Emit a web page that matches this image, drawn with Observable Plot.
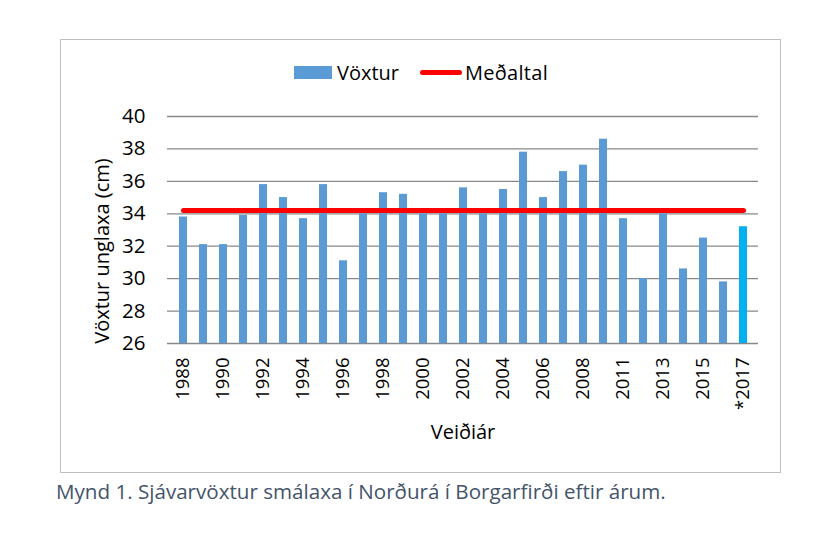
<!DOCTYPE html>
<html>
<head>
<meta charset="utf-8">
<script src="https://cdn.jsdelivr.net/npm/d3@7"></script>
<script src="https://cdn.jsdelivr.net/npm/@observablehq/plot@0.6"></script>
<style>
  html, body { margin: 0; padding: 0; background: #fff; }
  #wrap { position: relative; width: 833px; height: 551px; overflow: hidden; font-family: "Open Sans", sans-serif; }
  #frame { position: absolute; left: 60px; top: 39px; width: 719px; height: 432px; border: 1.5px solid #bfbfbf; pointer-events: none; z-index: 2; }
  #chart { position: absolute; left: 0; top: 0; z-index: 1; }
  #legend { position: absolute; top: 58px; left: 294px; height: 28px; display: flex; align-items: center; font-size: 20px; color: #000; z-index: 3; }
  .sw { display: inline-block; }
  #caption { position: absolute; left: 56px; top: 477px; font-size: 20.6px; color: #44546a; white-space: nowrap; z-index: 3; }
</style>
</head>
<body>
<div id="wrap">
  <div id="chart"></div>
  <div id="frame"></div>
  <div id="legend">
    <span class="sw" style="width:38px;height:13px;background:#5b9bd5;margin-right:5px;"></span><span>Vöxtur</span>
    <span class="sw" style="width:42px;height:5px;background:#ff0000;border-radius:3px;margin-left:21px;margin-right:3px;"></span><span style="letter-spacing:0.3px">Meðaltal</span>
  </div>
  <div id="caption">Mynd 1. Sjávarvöxtur smálaxa í Norðurá í Borgarfirði eftir árum.</div>
</div>
<script>
const years = ["1988","1989","1990","1991","1992","1993","1994","1995","1996","1997",
  "1998","1999","2000","2001","2002","2003","2004","2005","2006","2007","2008",
  "2010","2011","2012","2013","2014","2015","2016","*2017"];
const growth = [33.8,32.1,32.1,33.9,35.8,35.0,33.7,35.8,31.1,34.0,
  35.3,35.2,34.0,34.0,35.6,34.0,35.5,37.8,35.0,36.6,37.0,
  38.6,33.7,30.0,34.0,30.6,32.5,29.8,33.2];
const meanGrowth = 34.2;
const yTicks = [26,28,30,32,34,36,38,40];
const xTickLabels = years.filter((d, i) => i % 2 === 0);
const yLabel = "Vöxtur unglaxa (cm)";
const xLabel = "Veiðiár";
const highlightYear = "*2017";

const data = years.map((year, i) => ({year, value: growth[i], mean: meanGrowth}));

const plot = Plot.plot({
  width: 833,
  height: 480,
  marginLeft: 167,
  marginRight: 75,
  marginTop: 116,
  marginBottom: 137,
  style: {fontFamily: "Open Sans", fontSize: "20px", background: "transparent", color: "#000"},
  x: {domain: years, paddingInner: 0.6, paddingOuter: 0.3, align: 0.5},
  y: {domain: [26, 40]},
  marks: [
    Plot.ruleY(yTicks, {stroke: "#888888", strokeWidth: 1.3}),
    Plot.barY(data, {x: "year", y1: 26, y2: "value", fill: d => d.year === highlightYear ? "#00b0f0" : "#5b9bd5"}),
    Plot.lineY(data, {x: "year", y: "mean", stroke: "#ff0000", strokeWidth: 5, strokeLinecap: "round"}),
    Plot.axisY({ticks: yTicks, tickSize: 0, tickPadding: 22, fontSize: 20.5, label: null}),
    Plot.axisX({ticks: xTickLabels, tickRotate: -90, tickSize: 0, tickPadding: 14, fontSize: 18.5, label: null}),
    Plot.text([yLabel], {frameAnchor: "left", textAnchor: "middle", dx: -65, dy: 21, rotate: -90, fontSize: 20, text: d => d}),
    Plot.text([xLabel], {frameAnchor: "bottom", dy: 95, fontSize: 20, text: d => d})
  ]
});
document.getElementById("chart").appendChild(plot);
</script>
</body>
</html>
